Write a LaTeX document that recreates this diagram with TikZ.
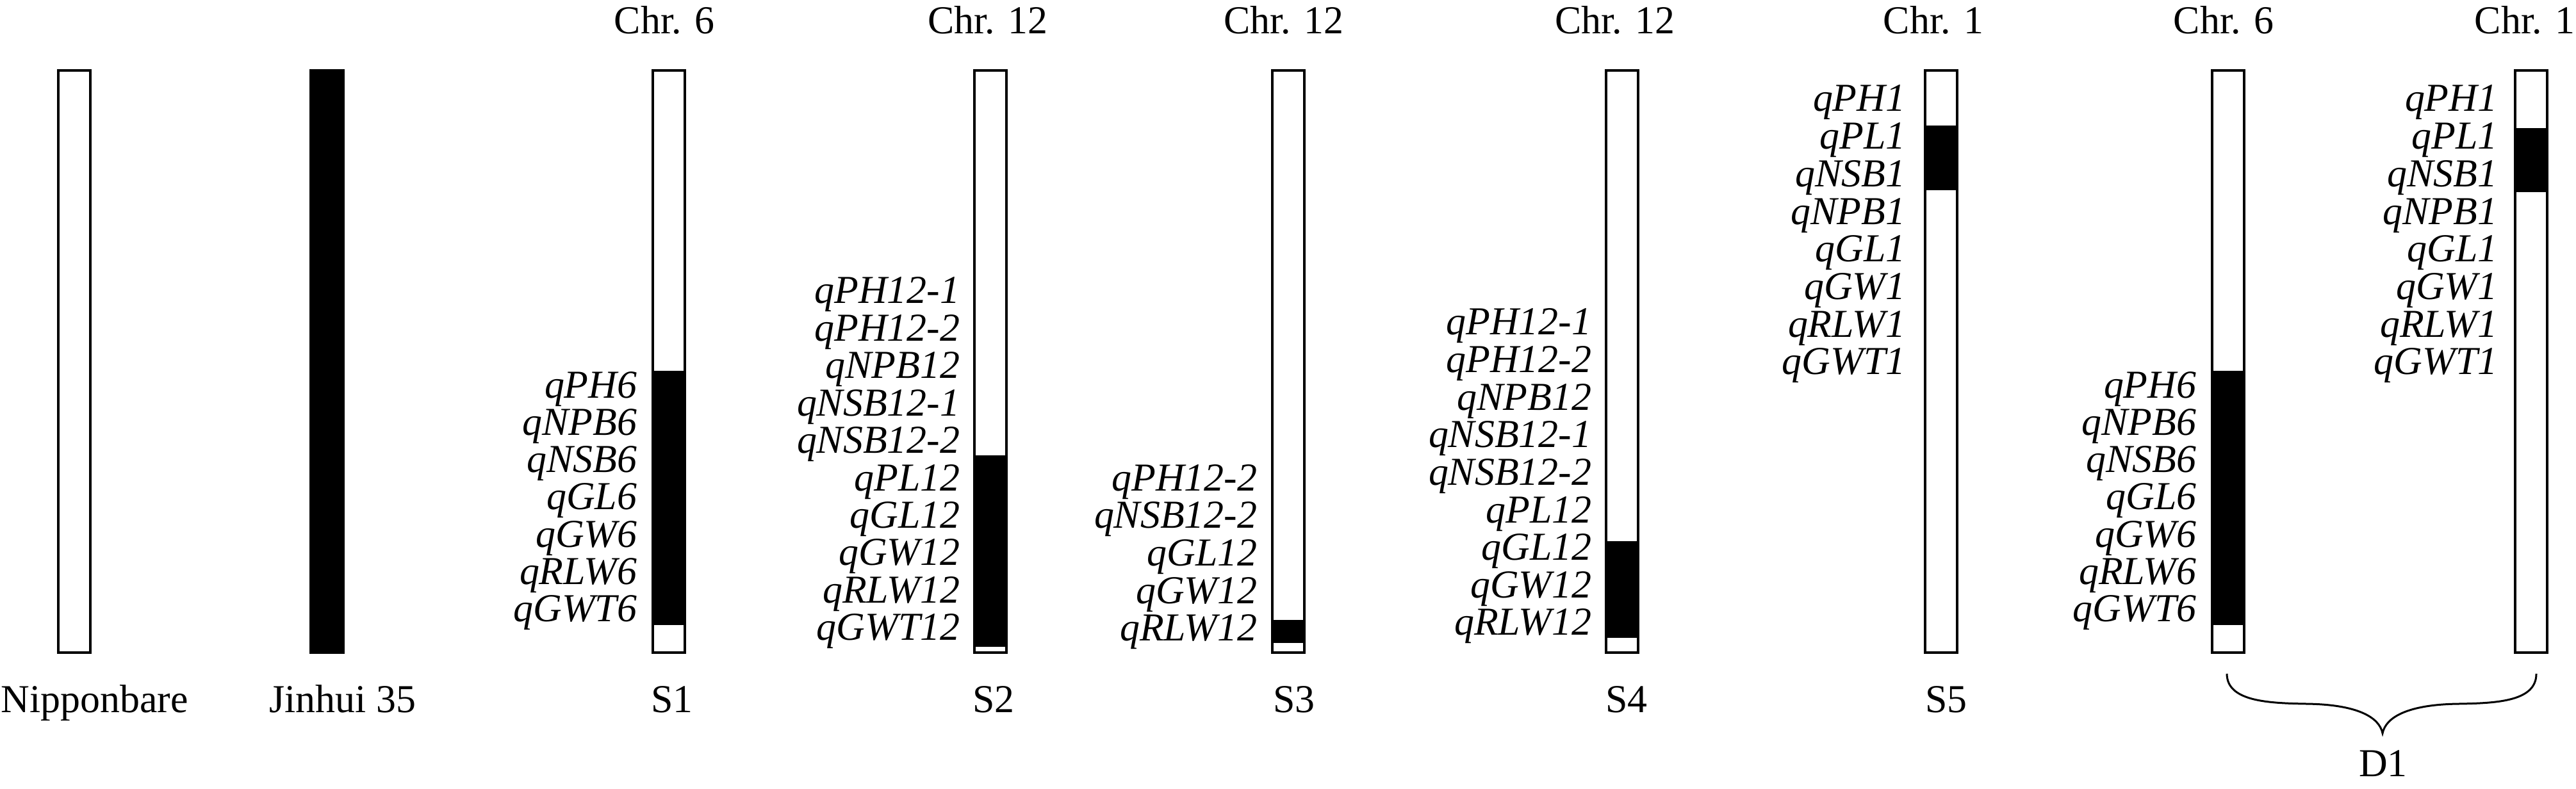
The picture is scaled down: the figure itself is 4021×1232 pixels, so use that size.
\documentclass[tikz,border=0pt]{standalone}
\usepackage{fontspec}
\setmainfont{Liberation Serif}
\begin{document}
\begin{tikzpicture}[x=0.1mm,y=-0.1mm,
  lbl/.style={font=\fontsize{17.6}{18}\selectfont, inner sep=0pt, anchor=base},
  qtl/.style={font=\fontsize{17.6}{18}\selectfont\itshape, inner sep=0pt, anchor=base east},
  outline/.style={draw=black, line width=0.4mm, fill=none},
  bracestyle/.style={draw=black, line width=0.3mm}]
\useasboundingbox (0,0) rectangle (4021,1232);

% bars
\draw[outline] (90.5,110) rectangle (140.5,1019);
\fill[black] (483,108) rectangle (538,1021);
\newcommand\chromobar[3]{%
  \fill[black] ({#1-25},#2) rectangle ({#1+25},#3);
  \draw[outline] ({#1-25},110) rectangle ({#1+25},1019);}
\chromobar{1044}{579}{976}
\chromobar{1545.5}{711}{1010}
\chromobar{2010.5}{968}{1004}
\chromobar{2531.5}{845}{996}
\chromobar{3029.5}{196}{297}
\chromobar{3478}{579}{976}
\chromobar{3951}{200}{300}

% bottom labels
\node[lbl] (nip) at (148,1112) {Nipponbare};
\node[lbl] (jin) at (535,1112) {Jinhui 35};
\node[lbl] (s1) at (1049,1112) {S1};
\node[lbl] (s2) at (1551,1112) {S2};
\node[lbl] (s3) at (2020,1112) {S3};
\node[lbl] (s4) at (2539,1112) {S4};
\node[lbl] (s5) at (3038,1112) {S5};

% top labels
\node[lbl] (c1) at (1037,53) {Chr. 6};
\node[lbl] (c2) at (1542,53) {Chr. 12};
\node[lbl] (c3) at (2004,53) {Chr. 12};
\node[lbl] (c4) at (2521,53) {Chr. 12};
\node[lbl] (c5) at (3018,53) {Chr. 1};
\node[lbl] (c6) at (3471,53) {Chr. 6};
\node[lbl] (c7) at (3941,53) {Chr. 1};

% QTL labels
\foreach \t [count=\i from 0] in {qPH6,qNPB6,qNSB6,qGL6,qGW6,qRLW6,qGWT6}
  \node[qtl] (sa\i) at (995,{621+58.3*\i}) {\t};
\foreach \t [count=\i from 0] in {qPH12-1,qPH12-2,qNPB12,qNSB12-1,qNSB12-2,qPL12,qGL12,qGW12,qRLW12,qGWT12}
  \node[qtl] (sb\i) at (1499,{474+58.4*\i}) {\t};
\foreach \t [count=\i from 0] in {qPH12-2,qNSB12-2,qGL12,qGW12,qRLW12}
  \node[qtl] (sc\i) at (1963,{766+58.7*\i}) {\t};
\foreach \t [count=\i from 0] in {qPH12-1,qPH12-2,qNPB12,qNSB12-1,qNSB12-2,qPL12,qGL12,qGW12,qRLW12}
  \node[qtl] (sd\i) at (2485,{523+58.6*\i}) {\t};
\foreach \t [count=\i from 0] in {qPH1,qPL1,qNSB1,qNPB1,qGL1,qGW1,qRLW1,qGWT1}
  \node[qtl] (se\i) at (2975,{174+58.7*\i}) {\t};
\foreach \t [count=\i from 0] in {qPH6,qNPB6,qNSB6,qGL6,qGW6,qRLW6,qGWT6}
  \node[qtl] (sf\i) at (3429,{621+58.3*\i}) {\t};
\foreach \t [count=\i from 0] in {qPH1,qPL1,qNSB1,qNPB1,qGL1,qGW1,qRLW1,qGWT1}
  \node[qtl] (sg\i) at (3899,{174+58.7*\i}) {\t};

% brace
\coordinate (bl) at (3476,1052);
\coordinate (br) at (3959,1052);
\coordinate (bt) at (3719,1145);
\draw[bracestyle] (bl) .. controls (3476,1095) and (3540,1098) .. (3600,1099)
  .. controls (3680,1100) and (3714,1120) .. (bt)
  .. controls (3724,1120) and (3758,1100) .. (3838,1099)
  .. controls (3898,1098) and (3959,1095) .. (br);
\node[lbl] (d1) at (3720,1212) {D1};
\end{tikzpicture}
\end{document}
